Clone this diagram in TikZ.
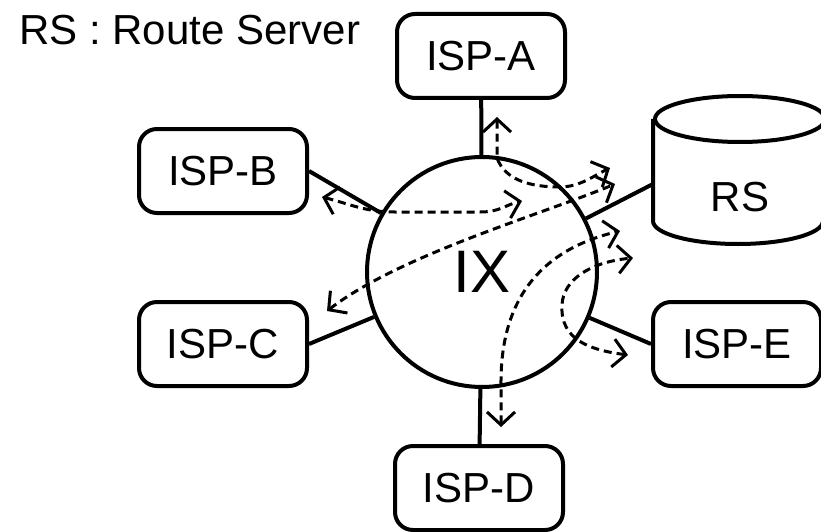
\documentclass[tikz,border=0pt]{standalone}
\usepackage{fontspec}
\setmainfont{Liberation Sans}
\usetikzlibrary{arrows.meta}

\begin{document}
\begin{tikzpicture}[x=1pt, y=-1pt, line width=4pt,
  isp/.style={draw, rounded corners=18pt, minimum width=168pt, minimum height=84pt, inner sep=0pt, font=\fontsize{42}{48}\selectfont},
  ixnode/.style={draw, circle, minimum size=230pt, inner sep=0pt, font=\fontsize{60}{70}\selectfont},
  flow/.style={<->, >={Straight Barb[length=13pt,width=28pt]}, line width=3pt, dash pattern=on 8pt off 5pt}]
\useasboundingbox (0,0) rectangle (821,532);
\node[anchor=base west, font=\fontsize{42}{48}\selectfont] (title) at (14,45) {RS : Route Server};
\node[ixnode] (ix) at (482,272) {IX};
\node[isp] (ispa) at (481,56) {ISP-A};
\node[isp] (ispb) at (223,171) {ISP-B};
\node[isp] (ispc) at (223,344) {ISP-C};
\node[isp] (ispd) at (479,488) {ISP-D};
\node[isp] (ispe) at (737,344) {ISP-E};
\node[minimum width=170pt, minimum height=144pt, inner sep=0pt] (rs) at (740,170) {};
\node[font=\fontsize{42}{48}\selectfont] (rslabel) at (740,197) {RS};
% cylinder
\draw ([yshift=-23pt]rs.north) ellipse [x radius=85pt, y radius=23pt];
\draw ([yshift=-23pt]rs.north west) -- ([yshift=23pt]rs.south west)
  arc [start angle=180, end angle=360, x radius=85pt, y radius=23pt] -- ([yshift=-23pt]rs.north east);
% links
\draw (ispa) -- (ix);
\draw (ispb.east) -- (ix);
\draw (ispc.east) -- (ix);
\draw (ispd) -- (ix);
\draw (ispe.west) -- (ix);
\draw ([yshift=-14pt]rs.west) -- (ix);
% route exchange
\draw[flow] (497,117) -- (497,158) .. controls (505,180) and (530,187) .. (560,187) .. controls (580,187) and (595,175) .. (610,168);
\draw[flow] (322,197) .. controls (350,204) and (365,212) .. (395,212) -- (480,212) .. controls (500,212) and (505,205) .. (522,201);
\draw[flow] (327,311) .. controls (400,255) and (540,215) .. (615,184);
\draw[flow] (501,427) -- (501,385) .. controls (500,300) and (540,250) .. (620,231);
\draw[flow] (628,355) .. controls (590,350) and (560,340) .. (562,305) .. controls (563,280) and (590,262) .. (633,258);
\end{tikzpicture}
\end{document}
